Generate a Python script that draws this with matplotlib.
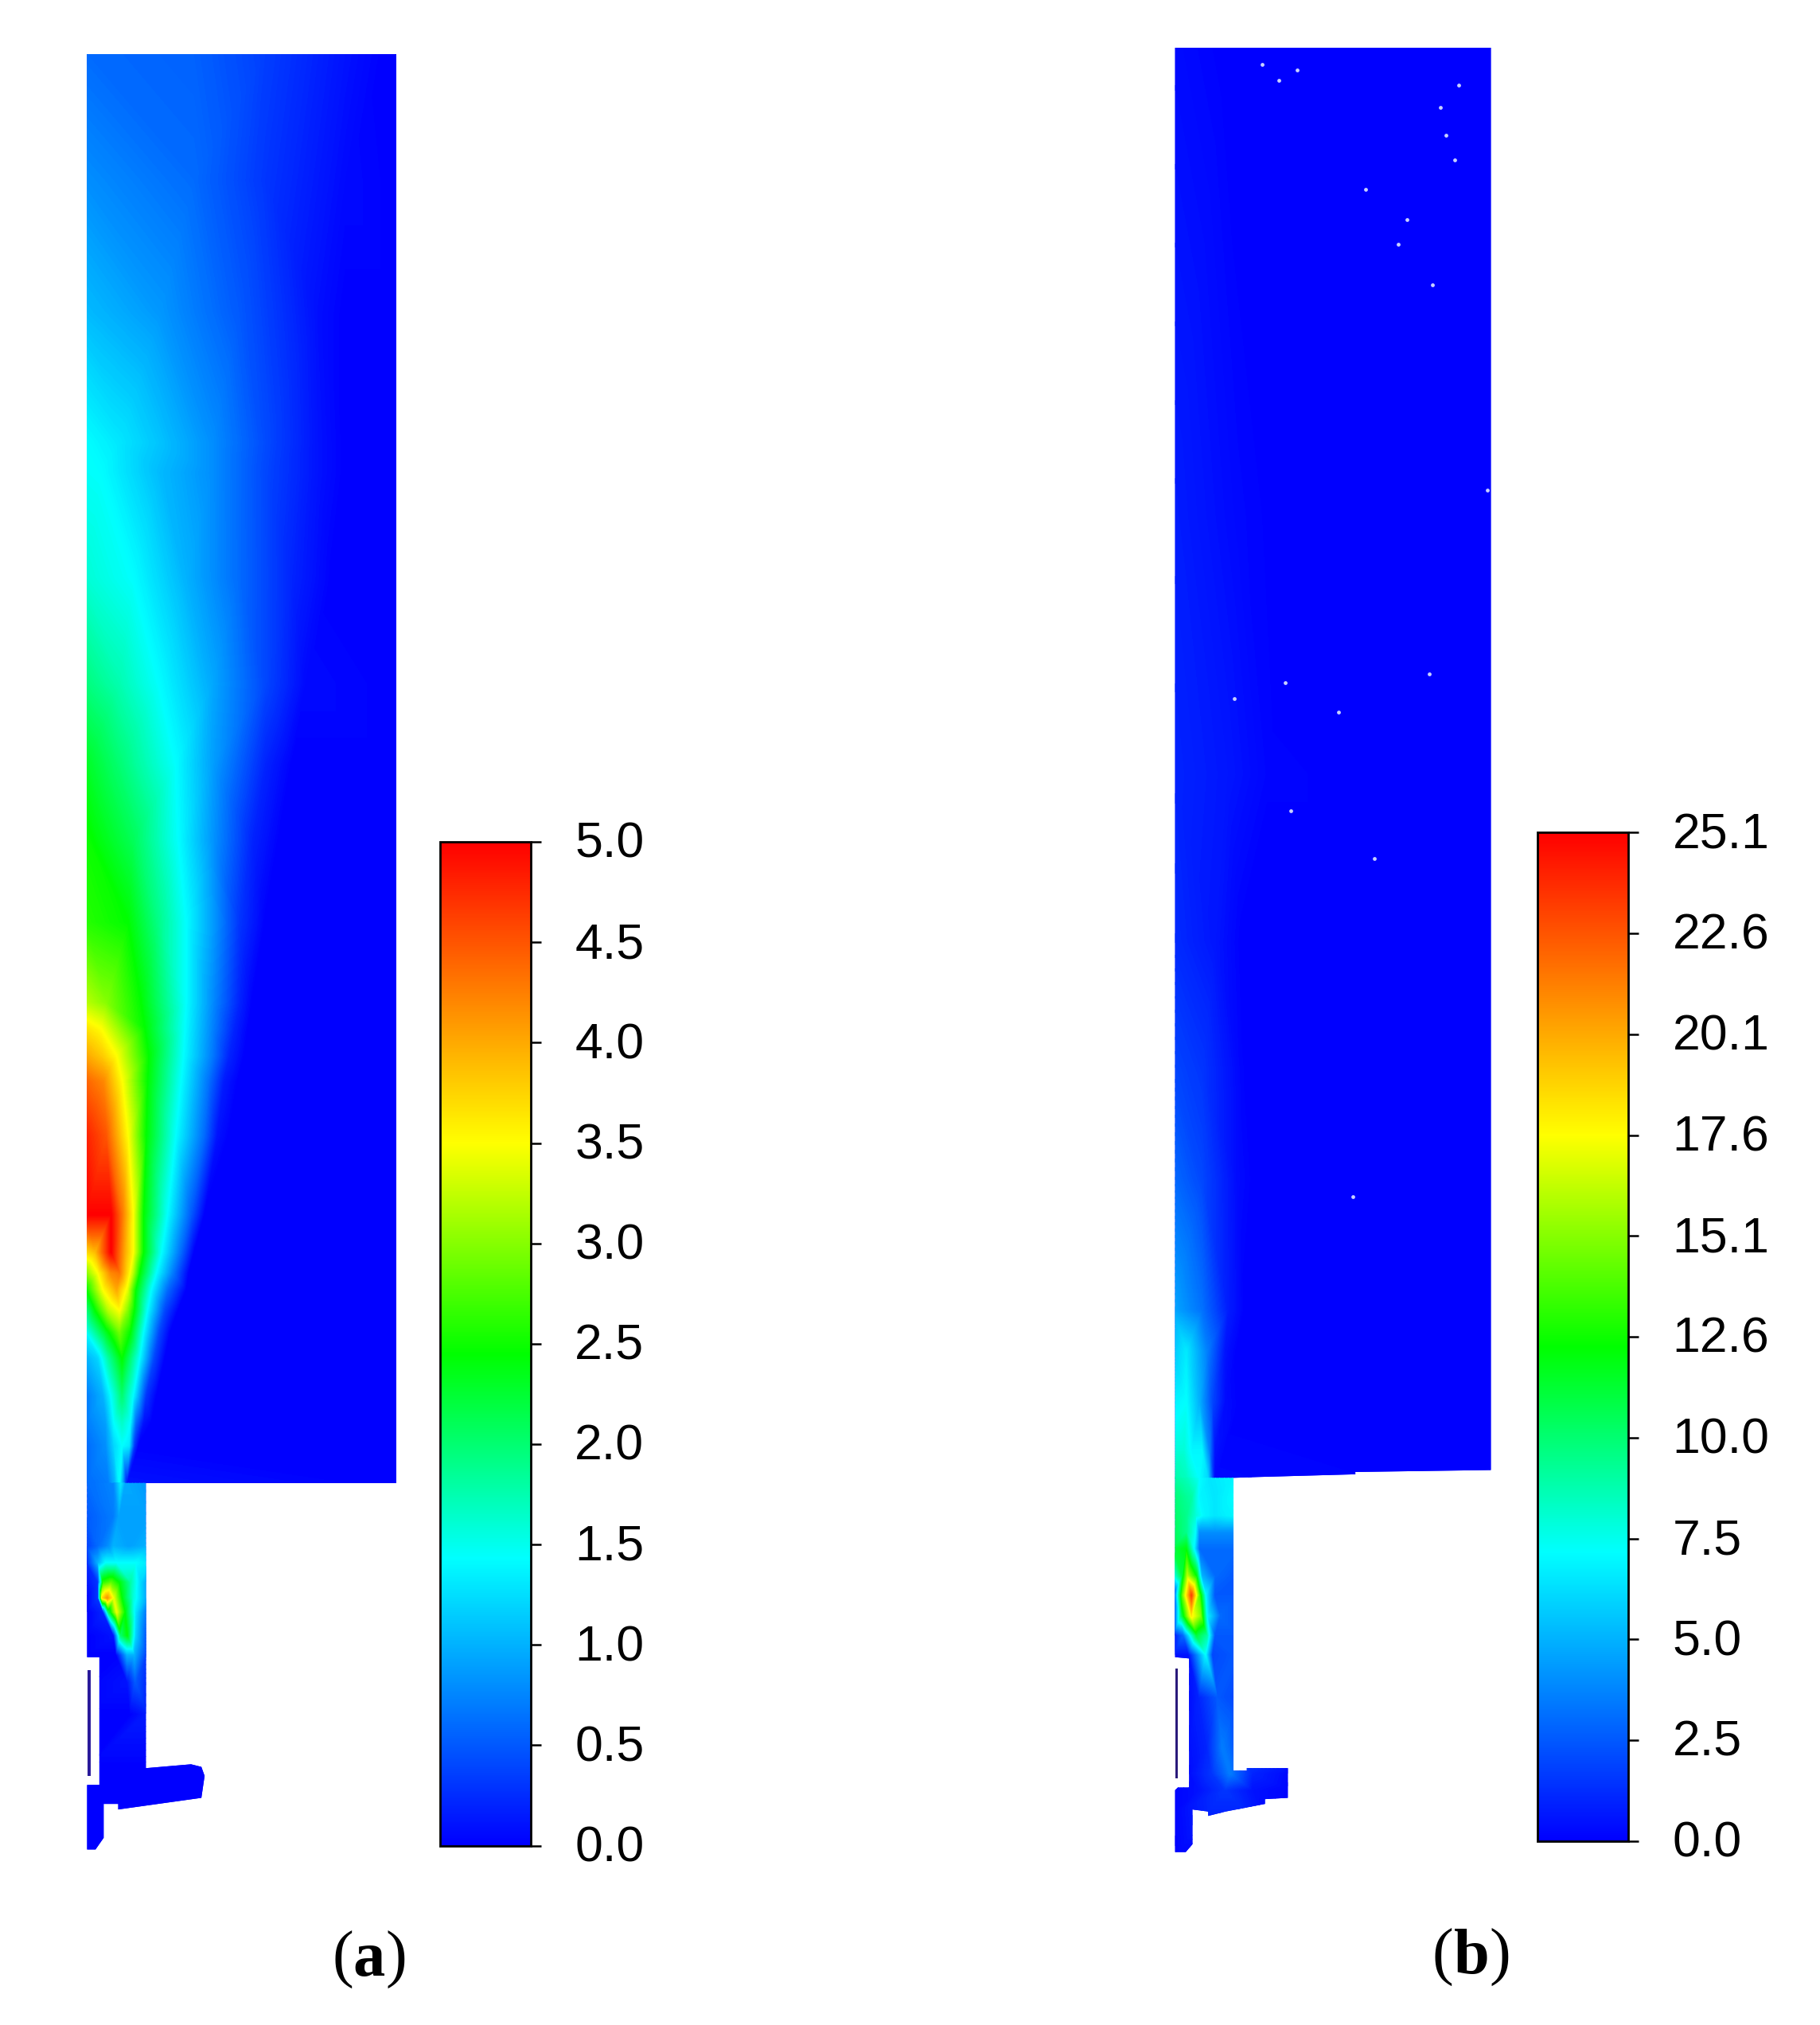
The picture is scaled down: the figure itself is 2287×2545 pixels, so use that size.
import numpy as np
import matplotlib
matplotlib.use("Agg")
import matplotlib.pyplot as plt
from matplotlib.colors import LinearSegmentedColormap, Normalize
from matplotlib.cm import ScalarMappable
from matplotlib.patches import Polygon
from matplotlib.tri import Triangulation
from matplotlib.transforms import ScaledTranslation

W, H = 1410.0, 1569.0   # working units

# ---------- panel (a) field: height, knot positions, values ----------
a_main_y = [42,140,242,343,366,448,530,592,651,715,777,797,818,838,880,941,970,986,999,1015,1032,1052,1081,1102,1120,1150]
a_main_x = [
 [67,150,205,267,298,308],[67,150,205,267,308],[67,124,185,246,267,308],
 [67,92,123,164,205,246,267,308],[67,78,123,164,205,246,267,308],[67,103,144,185,226,257,308],
 [67,92,123,164,205,236,308],[67,92,136,164,205,226,308],[67,103,138,164,195,216,308],
 [67,99,123,144,164,185,205,308],[67,82,109,144,164,185,195,308],[67,78,112,143,164,181,192,308],
 [67,79,90,115,142,164,177,189,308],[67,80,94.5,114,140,161,173,184,308],
 [67,82,99,113,136,158,168,177,308],[67,86,94.5,103,111,129.5,148,158,308],
 [67,74,86,96.6,103,111,125,140,150,308],[67,76,86,92.5,98.6,103,108,121,133.6,146,308],
 [67,80,90.4,98.6,105,117,129.5,144,308],[67,74,84,92.5,98.6,103.8,114,127.4,137.7,308],
 [67,82,92.5,100.7,111,123,131.5,308],[67,76,84,94.5,100.7,108,119,127.4,308],
 [67,80,86,94.5,103,106,113,121,308],[67,82,88.4,94.5,100.7,105,111,117,308],
 [67,82,88.4,94.5,100,104,107,308],[67,84,89,92.5,95,98,308]]
a_main_v = [
 [.6,.55,.35,.1,0,0],[.8,.6,.3,.05,0],[1.05,.85,.5,.08,0,0],
 [1.43,1.3,1.1,.8,.42,.1,0,0],[1.45,1.43,1.05,.8,.4,.1,0,0],[1.6,1.43,1.0,.6,.2,0,0],
 [1.95,1.75,1.43,.95,.4,.05,0],[2.3,2.0,1.43,.9,.2,0,0],[2.5,2.1,1.43,.85,.2,0,0],
 [2.6,2.45,1.9,1.43,.9,.3,0,0],[3.2,3.0,2.45,1.43,.8,.2,0,0],[3.65,3.5,2.45,1.43,.75,.2,0,0],
 [4.0,3.8,3.5,2.45,1.43,.7,.2,0,0],[4.4,4.2,3.5,2.45,1.43,.65,.15,0,0],
 [4.8,4.5,3.5,2.45,1.43,.6,.1,0,0],[5,5,4.3,3.5,2.45,1.43,.5,0,0],
 [3.7,3.9,5,4,3.5,2.45,1.43,.6,0,0],[3.0,3.5,4.2,4.3,3.7,3.2,2.45,1.43,.7,0,0],
 [2.45,3.5,4,3.4,2.45,1.43,.6,0,0],[1.9,2.45,3.2,3.5,3,2.45,1.43,.4,0,0],
 [1.43,2.3,2.9,2.45,1.43,.4,0,0],[1.0,1.2,1.8,2.45,2,1.43,.4,0,0],
 [.7,1,1.43,2,1.43,1.1,.3,0,0],[.7,.9,1.43,1.65,1.43,.6,.1,0,0],
 [.6,.8,1.2,1.43,1.3,.3,0,0],[.6,.7,1.0,1.43,.9,.1,0]]

a_low_y = [1149,1175,1198,1211,1226,1238,1249,1267,1282,1303,1328,1370,1440]
a_low_x = [
 [67,88,93.5,96.6,114],[67,88,92,114],[67,76,84,88,100,114],[67,76,82,90,105,114],
 [67,76,80,86,92.5,100.7,109,114],[67,76,79,83,88,94.5,102.7,114],[67,80,84,90.4,96.6,104.8,114],
 [67,88,93.5,98.6,104.8,114],[67,90,98.6,103.8,114],[67,98.6,104.8,114],[67,100.7,114],[67,160],[67,160]]
a_low_v = [
 [.6,.75,1.3,.95,.85],[.5,.7,.9,.9],[.35,.6,.8,1,.9,1],[.2,1,1.43,1.43,1.43,1.3],
 [.1,.3,2.6,2.8,2.4,1.8,1.2,.9],[0,.3,3.6,4.1,3.4,2.4,1.6,.9],[0,.2,2,3.4,2.45,1.3,.6],
 [0,.1,2,2.4,1.2,.4],[0,0,1,1,.3],[0,.1,.5,.2],[0,0,.15],[0,0],[0,0]]

# ---------- panel (b) field ----------
b_main_y = [36,400,600,730,832,914,1015,1047,1086,1124,1147]
b_main_x = [
 [909,950,1156],[909,960,990,1156],[909,950,985,1156],[909,941,962,1156],[909,931,962,972,1156],
 [909,931,958,972,1156],[909,931,951,964,1156],[909,919,935,949,958,1156],[909,919,929,939,949,960,1156],
 [909,917,923,931,937,941,1156],[909,919,929,936,941,1156]]
b_main_v = [
 [.3,0,0],[.8,.2,0,0],[1,.6,.1,0],[1.2,.6,0,0],[2,1.5,.1,0,0],
 [3,2,.3,0,0],[4.7,3.2,.8,0,0],[5.6,6.6,3.6,.5,0,0],[6.8,7.2,5,2,.3,0,0],
 [8,8,7,7,3.5,.5,0],[9,8.5,7.2,6,.2,0]]

b_low_y = [1144,1160,1174,1187,1200,1221,1236,1252,1267,1282,1315,1354,1374,1387,1405,1440]
b_low_x = [
 [909,919,929,937,957],[909,923,929,941,957],[909,919,926,932,941,957],[909,919,926,929,941,957],
 [909,919,925,929,957],[909,916,920,927,931,941,957],[909,916,923,929,934,941,957],
 [909,915,923,930,935,945,957],[909,917,927,935,941,957],[909,921,934,939,957],[909,921,929,943,957],
 [909,921,935,947,957],[909,921,939,953,970,999],[909,929,949,970,999],[909,999],[909,999]]
b_low_v = [
 [9,8.5,7.2,6.5,7],[10,9,7,6.5,7.2],[10.3,9.5,8,7,6.5,7],[10.5,9.5,7.2,4,4,4],
 [11,12,7,3,3],[7,11,16,12,5,3,2.5],[1,14,23,14,7,2.5,2.5],
 [1,10,18,15,7,3,2.5],[.5,3,11,9,2.5,2.5],[.5,.5,7,2,2.5],[.3,.3,1,2.5,2],
 [.4,.4,1,3.5,2.5],[.2,.3,1.5,3.5,1,.2],[.1,.5,1.5,.5,.1],[.1,.1],[0,0]]

# ---------- outlines ----------
a_main_outline = [(67.5,42),(307,42),(307,1149),(94.5,1149),(67.5,1149)]
a_low_outline = [(67.5,1149),(113,1149),(113,1370),(148,1367),(156,1369),(158.5,1376),(156,1393),
                 (91.6,1402),(91.6,1397.7),(80.3,1397.7),(80.3,1424),(74,1433),(67.5,1433),
                 (67.5,1383),(77,1383),(77,1284),(67.5,1284)]
a_slit = [(67.8,1294),(70.4,1294),(70.4,1376),(67.8,1376)]

b_main_outline = [(910.4,37),(1155,37),(1155,1139),(1050,1140.5),(1050,1142.3),(974,1144.4),(939,1145.6),(910.4,1145.6)]
b_low_outline = [(910.4,1145),(955.6,1145),(955.6,1372),(966,1372),(966,1370),(997.7,1370),(997.7,1393),
                 (980,1394),(980,1397.7),(963,1401),(949.5,1403.6),(936,1407),(936,1403.6),(923.8,1402),
                 (923.8,1429),(918.6,1435),(910.4,1435),(910.4,1387),(912.5,1385),(921.3,1385),(921.3,1285),(910.4,1284)]
b_slit = [(910.4,1293),(912.6,1293),(912.6,1378),(910.4,1378)]

b_dots_x = [978,991,1005,1130,1116,1120,1127,1058,1090,1083,1110,1152,956,996,1037,1107,1000,1065,1048]
b_dots_y = [50,62,54,66,83,105,124,147,170,189,221,380,541,529,552,522,628,665,927]

# ---------- colour bars ----------
a_ticks = [0,.5,1,1.5,2,2.5,3,3.5,4,4.5,5]
a_labels = ["0.0","0.5","1.0","1.5","2.0","2.5","3.0","3.5","4.0","4.5","5.0"]
b_ticks = [0,2.51,5.02,7.53,10.04,12.55,15.06,17.57,20.08,22.59,25.1]
b_labels = ["0.0","2.5","5.0","7.5","10.0","12.6","15.1","17.6","20.1","22.6","25.1"]
vmax_a, vmax_b = 5.0, 25.1

cmap = LinearSegmentedColormap.from_list("rb", [(0,(0,0,1)),(.286,(0,1,1)),(.49,(0,1,0)),(.70,(1,1,0)),(1,(1,0,0))], N=512)

plt.rcParams['font.family'] = ['Liberation Sans', 'DejaVu Sans']
fig = plt.figure(figsize=(22.87,25.45), dpi=100, facecolor="white")
ax = fig.add_axes([0,0,1,1])
ax.set_xlim(0,W); ax.set_ylim(H,0); ax.axis("off")

def field(ys, xs, vs, vmax, outline):
    for i, (x, v) in enumerate(zip(xs, vs, strict=True)):
        assert len(x) == len(v), (i, len(x), len(v))
    px = np.concatenate([np.array(x, float) for x in xs])
    py = np.concatenate([np.full(len(x), float(y)) for y, x in zip(ys, xs, strict=True)])
    pv = np.concatenate([np.array(v, float) for v in vs])
    bg = Polygon(outline, closed=True, fc=cmap(0.0), ec="none", zorder=1)
    ax.add_patch(bg)
    tri = Triangulation(px, py)
    cs = ax.tricontourf(tri, pv*100/vmax, levels=np.linspace(0,100,301), cmap=cmap, vmin=0, vmax=100, extend="both", zorder=2)
    cs.set_clip_path(bg)

field(a_main_y, a_main_x, a_main_v, vmax_a, a_main_outline)
field(a_low_y, a_low_x, a_low_v, vmax_a, a_low_outline)
field(b_main_y, b_main_x, b_main_v, vmax_b, b_main_outline)
field(b_low_y, b_low_x, b_low_v, vmax_b, b_low_outline)
ax.add_patch(Polygon(a_slit, closed=True, fc="#2a1a9a", ec="none", zorder=3))
ax.add_patch(Polygon(b_slit, closed=True, fc="#2a1a7a", ec="none", zorder=3))
ax.scatter(b_dots_x, b_dots_y, s=12, c="#c8d0ff", linewidths=0, zorder=4)

def cbar(x0, x1, y0, y1, vmax, ticks, labels):
    cax = fig.add_axes([x0/W, 1-y1/H, (x1-x0)/W, (y1-y0)/H])
    cb = fig.colorbar(ScalarMappable(Normalize(0,vmax), cmap), cax=cax)
    cb.set_ticks(ticks, labels=labels)
    cb.minorticks_off()
    cb.outline.set_linewidth(2.0)
    cax.tick_params(axis="y", length=9, width=1.8, pad=31, labelsize=45)
    up = ScaledTranslation(0, 2.3/72, fig.dpi_scale_trans)
    for lab in cax.get_yticklabels():
        lab.set_transform(lab.get_transform() + up)

cbar(341, 411, 652.3, 1430, vmax_a, a_ticks, a_labels)
cbar(1191, 1261.4, 645, 1426.5, vmax_b, b_ticks, b_labels)

serif = ['Liberation Serif','DejaVu Serif']
def panel_label(cx, cy, s):
    r = fig.canvas.get_renderer()
    parts = [("(", "normal"), (s, "bold"), (")", "normal")]
    ts = [ax.text(0, cy, p, family=serif, weight=w, fontsize=58, ha="left", va="center", zorder=5) for p, w in parts]
    inv = ax.transData.inverted()
    wid = [abs(inv.transform((t.get_window_extent(r).x1,0))[0]-inv.transform((t.get_window_extent(r).x0,0))[0]) for t in ts]
    x = cx - sum(wid)/2
    for t, w_ in zip(ts, wid):
        t.set_x(x); x += w_
panel_label(286,1519,"a")
panel_label(1140,1517,"b")

fig.savefig("out.png", dpi=100, facecolor="white")
